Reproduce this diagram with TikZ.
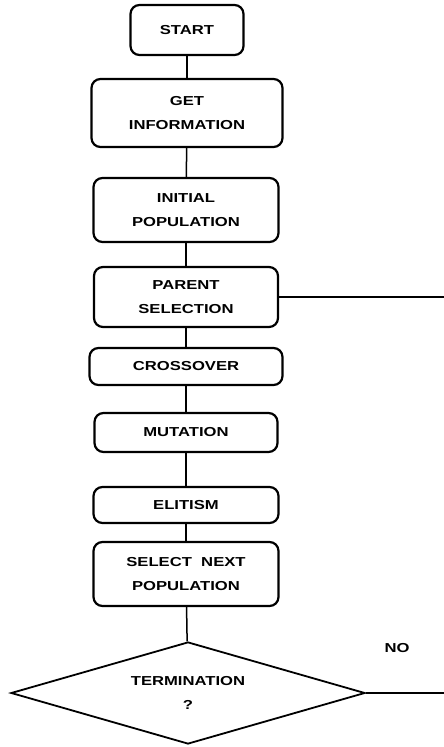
\documentclass[tikz,border=0pt]{standalone}
\usepackage{fontspec}
\newfontfamily\flowfont[FakeStretch=1.28]{Liberation Sans}
\usetikzlibrary{
    shapes,
    calc
}

\begin{document}
\begin{tikzpicture}[x=1pt, y=-1pt, step-box/.style={
                rectangle, draw=black, line width=2.2pt, rounded corners=9pt, align=center, inner sep=0pt,
                font=\flowfont\bfseries\fontsize{13}{23.5}\selectfont},
                link/.style={draw=black, line width=1.5pt}]
                \useasboundingbox (0,0) rectangle (444,747);
                \node[step-box, minimum width=113pt, minimum height=50pt] (start) at (187,30) {START};
                \node[step-box, minimum width=191pt, minimum height=68pt] (info) at (187,113) {GET\\ INFORMATION};
                \node[step-box, minimum width=185pt, minimum height=64pt] (initpop) at (186,210) {INITIAL\\ POPULATION};
                \node[step-box, minimum width=184pt, minimum height=60pt] (parent) at (186,297) {PARENT\\ SELECTION};
                \node[step-box, minimum width=193pt, minimum height=37pt] (cross) at (186,366.5) {CROSSOVER};
                \node[step-box, minimum width=183pt, minimum height=39pt] (mutate) at (186,432.5) {MUTATION};
                \node[step-box, minimum width=185pt, minimum height=36pt] (elite) at (186,505) {ELITISM};
                \node[step-box, minimum width=185pt, minimum height=64pt] (nextpop) at (186,574) {SELECT~ NEXT\\ POPULATION};
                \node[step-box, diamond, aspect=3.5, rounded corners=0pt, line width=1.8pt, minimum width=354pt, minimum height=102pt] (term) at (188,693) {TERMINATION\\ ?};
                \node[font=\flowfont\bfseries\fontsize{13}{15}\selectfont] (no) at (397,648) {NO};
                \coordinate (loopa) at (444,297);
                \coordinate (loopb) at (444,693);
                \draw [link] (start) -- (info);
                \draw [link] (info) -- (initpop);
                \draw [link] (initpop) -- (parent);
                \draw [link] (parent) -- (cross);
                \draw [link] (cross) -- (mutate);
                \draw [link] (mutate) -- (elite);
                \draw [link] (elite) -- (nextpop);
                \draw [link] (nextpop) -- (term);
                \draw [line width=1.2pt] (parent.east) -- (loopa);
                \draw [line width=1.2pt] (term.east) -- (loopb);
            \end{tikzpicture}
\end{document}
